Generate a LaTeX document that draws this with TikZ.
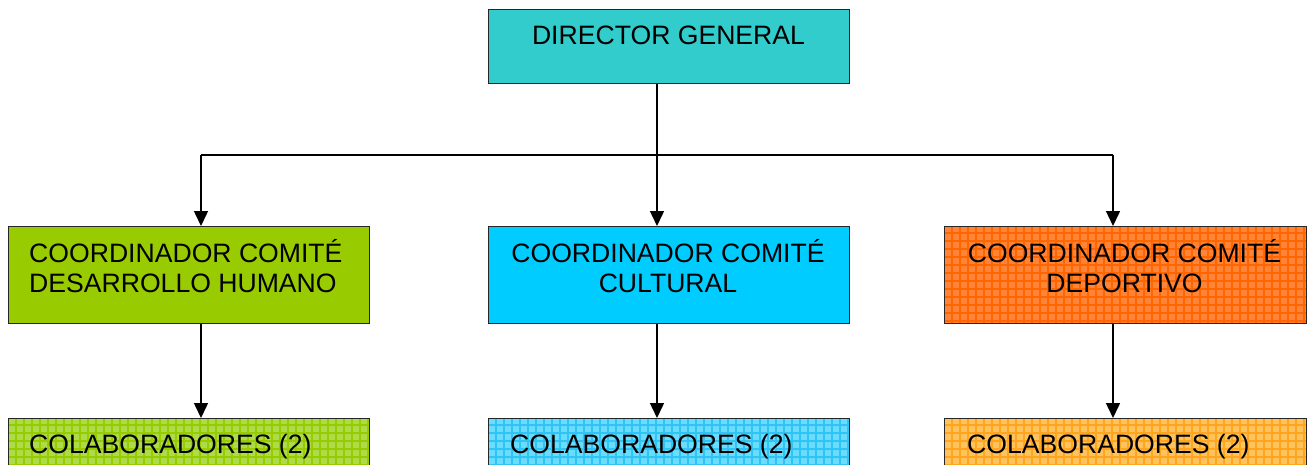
\documentclass[tikz,border=0pt]{standalone}
\usepackage{fontspec}
\setmainfont{Liberation Sans}
\usetikzlibrary{arrows.meta,patterns.meta}
\definecolor{dirc}{HTML}{33CCCC}
\definecolor{greenc}{HTML}{99CC00}
\definecolor{bluec}{HTML}{00CCFF}
\definecolor{orangebase}{HTML}{FF8438}
\definecolor{orangeline}{HTML}{FF6600}
\definecolor{lgbase}{HTML}{ADDC4A}
\definecolor{lgline}{HTML}{99CC00}
\definecolor{lbbase}{HTML}{6ADCFF}
\definecolor{lbline}{HTML}{2EC4F4}
\definecolor{lobase}{HTML}{FFC35E}
\definecolor{loline}{HTML}{FFA51E}
\tikzset{
  box/.style={draw=black!85, line width=1.3pt, rectangle, inner sep=0pt, anchor=north west},
  plain/.style={preaction={fill=#1}},
  grid/.style 2 args={preaction={fill=#1},
               preaction={pattern={Lines[distance=8pt,angle=0,line width=1.6pt]}, pattern color=#2},
               preaction={pattern={Lines[distance=8pt,angle=90,line width=1.6pt]}, pattern color=#2}},
  txt/.style={font=\fontsize{26.6}{30}\selectfont, inner sep=0pt, anchor=base},
  conn/.style={draw=black, line width=1.5pt},
  arr/.style={conn, -{Triangle[length=15pt,width=14pt]}}
}
\begin{document}
\begin{tikzpicture}[x=1pt,y=-1pt]
\useasboundingbox (0,0) rectangle (1311,465);
\clip (0,0) rectangle (1311,465);
% boxes
\node[box, plain=dirc, minimum width=361pt, minimum height=74pt] (dir) at (488,9) {};
\node[box, plain=greenc, minimum width=361pt, minimum height=97pt] (c1) at (8,226) {};
\node[box, plain=bluec, minimum width=361pt, minimum height=97pt] (c2) at (488,226) {};
\node[box, grid={orangebase}{orangeline}, minimum width=362pt, minimum height=97pt] (c3) at (944,226) {};
\node[box, grid={lgbase}{lgline}, minimum width=361pt, minimum height=70pt] (b1) at (8,418) {};
\node[box, grid={lbbase}{lbline}, minimum width=361pt, minimum height=70pt] (b2) at (488,418) {};
\node[box, grid={lobase}{loline}, minimum width=362pt, minimum height=70pt] (b3) at (944,418) {};
% texts
\node[txt] (tdir) at (668.5,45) {DIRECTOR GENERAL};
\node[txt, anchor=base west, align=left] (tc1) at (29,292) {COORDINADOR COMITÉ\\DESARROLLO HUMANO};
\node[txt, align=center] (tc2) at (668,292) {COORDINADOR COMITÉ\\CULTURAL};
\node[txt, align=center] (tc3) at (1124.5,292) {COORDINADOR COMITÉ\\DEPORTIVO};
\node[txt, anchor=base west] (tb1) at (29,453) {COLABORADORES (2)};
\node[txt, anchor=base west] (tb2) at (510,453) {COLABORADORES (2)};
\node[txt, anchor=base west] (tb3) at (967,453) {COLABORADORES (2)};
% connectors
\coordinate (j) at (657,155);
\coordinate (hl) at (201,155);
\coordinate (hr) at (1113,155);
\draw[conn] (dir.south -| j) -- (j);
\draw[conn] (hl) -- (hr);
\draw[arr] (hl) -- (hl |- c1.north);
\draw[arr] (j) -- (j |- c2.north);
\draw[arr] (hr) -- (hr |- c3.north);
\draw[arr] (hl |- c1.south) -- (hl |- b1.north);
\draw[arr] (j |- c2.south) -- (j |- b2.north);
\draw[arr] (hr |- c3.south) -- (hr |- b3.north);
\end{tikzpicture}
\end{document}
